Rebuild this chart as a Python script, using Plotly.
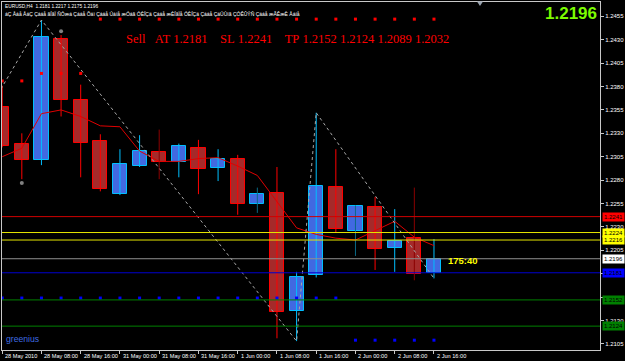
import plotly.graph_objects as go

# ---------------- data ----------------
bar_index = list(range(23))
opens  = [1.2358, 1.2319, 1.2301, 1.2431, 1.2366, 1.2322, 1.2265, 1.2295, 1.2310, 1.2299, 1.2314, 1.2293,
          1.2303, 1.2255, 1.2266, 1.2140, 1.2179, 1.2273, 1.2226, 1.2251, 1.2207, 1.2218, 1.2181]
highs  = [1.2381, 1.2330, 1.2451, 1.2435, 1.2382, 1.2329, 1.2313, 1.2328, 1.2334, 1.2319, 1.2323, 1.2313,
          1.2307, 1.2272, 1.2294, 1.2182, 1.2352, 1.2313, 1.2253, 1.2262, 1.2249, 1.2272, 1.2217]
lows   = [1.2315, 1.2281, 1.2296, 1.2348, 1.2283, 1.2268, 1.2264, 1.2294, 1.2281, 1.2283, 1.2265, 1.2279,
          1.2243, 1.2245, 1.2111, 1.2108, 1.2176, 1.2224, 1.2199, 1.2184, 1.2182, 1.2173, 1.2175]
closes = [1.2316, 1.2301, 1.2433, 1.2366, 1.2320, 1.2270, 1.2297, 1.2311, 1.2299, 1.2316, 1.2292, 1.2303,
          1.2254, 1.2265, 1.2139, 1.2177, 1.2274, 1.2228, 1.2252, 1.2206, 1.2215, 1.2180, 1.2196]
dark_wick_bars = [8, 13, 18, 21]

ma_values = [1.2305, 1.2314, 1.2351, 1.2355, 1.2348, 1.2338, 1.2337, 1.2311, 1.2300, 1.2300, 1.2303, 1.2304,
             1.2295, 1.2285, 1.2257, 1.2229, 1.2222, 1.2218, 1.2216, 1.2226, 1.2236, 1.2219, 1.2210]

zigzag_idx = [-1, 2, 15, 16, 22]
zigzag_val = [1.2344, 1.2451, 1.2108, 1.2352, 1.2175]

red_dots = [1.2386, 1.2386, 1.2394, 1.2394, 1.2394] + [1.2452] * 18
blue_dots = [1.2154] * 18 + [1.2109] * 5

fractal_idx = [3, 1]
fractal_val = [1.2439, 1.2277]

level_prices = [1.2241, 1.2224, 1.2216, 1.2196, 1.2181, 1.2152, 1.2124]
level_colors = ["#D00000", "#E6E600", "#E6E600", "#909090", "#0000D0", "#008000", "#008000"]
box_colors = ["#FF0000", "#FFFF00", "#FFFF00", "#FFFFFF", "#0000FF", "#008000", "#008000"]

xtick_idx = [0, 2, 4, 6, 8, 10, 12, 14, 16, 18, 20, 22]
xtick_text = ["28 May 2010", "28 May 08:00", "28 May 16:00", "31 May 00:00", "31 May 08:00",
              "31 May 16:00", "1 Jun 00:00", "1 Jun 08:00", "1 Jun 16:00", "2 Jun 00:00",
              "2 Jun 08:00", "2 Jun 16:00"]
ytick_vals = [1.2455, 1.2430, 1.2405, 1.2380, 1.2355, 1.2330, 1.2305, 1.2280, 1.2255, 1.2230,
              1.2205, 1.2180, 1.2155, 1.2130, 1.2105]
ytick_hidden = [1.2180, 1.2155]   # covered by the level boxes

header1 = "EURUSD,H4  1.2181 1.2217 1.2175 1.2196"
header2 = ("áÇ Åáå ÅáÇ Çááå ãÍãÏ ÑÓæá Çááå Õáì Çááå Úáíå æÓáã ÓÈÍÇä Çááå æÈÍãÏå "
           "ÓÈÍÇä Çááå ÇáÚÙíã ÇÓÊÛÝÑ Çááå æÃÊæÈ Åáíå")
signal_text = "Sell   AT 1.2181    SL 1.2241    TP 1.2152 1.2124 1.2089 1.2032"
price_text = "1.2196"
timer_text = "175:40"
brand_text = "greenius"

# ---------------- geometry helpers ----------------
W, H = 625, 361
L, R, T, B = 2, 25, 2, 11
PW, PH = W - L - R, H - T - B


def px(x):
    return (x - L) / PW


def py(y):
    return (H - B - y) / PH


BULL_FILL, BULL_LINE = "#4169E1", "#00BFFF"
BEAR_FILL, BEAR_LINE = "#A52A2A", "#FF0000"

fig = go.Figure()

# wicks
wick_groups = {}
for i in bar_index:
    bull = closes[i] >= opens[i]
    if i in dark_wick_bars:
        col = "#0A6A86" if bull else "#8B0000"
    else:
        col = BULL_LINE if bull else BEAR_LINE
    g = wick_groups.setdefault(col, ([], []))
    g[0].extend([i, i, None])
    g[1].extend([lows[i], highs[i], None])
for col, (xs, ys) in wick_groups.items():
    fig.add_trace(go.Scatter(x=xs, y=ys, mode="lines", line=dict(color=col, width=1),
                             hoverinfo="skip", showlegend=False))

# bodies
bases = [min(o, c) for o, c in zip(opens, closes)]
heights = [max(abs(c - o), 0.00002) for o, c in zip(opens, closes)]
fills = [BULL_FILL if c >= o else BEAR_FILL for o, c in zip(opens, closes)]
lines = [BULL_LINE if c >= o else BEAR_LINE for o, c in zip(opens, closes)]
fig.add_trace(go.Bar(x=bar_index, y=heights, base=bases, width=0.72,
                     marker=dict(color=fills, line=dict(color=lines, width=1)),
                     showlegend=False, hoverinfo="skip"))

# moving average
fig.add_trace(go.Scatter(x=bar_index, y=ma_values, mode="lines",
                         line=dict(color="#E00000", width=1), showlegend=False))

# zigzag
fig.add_trace(go.Scatter(x=zigzag_idx, y=zigzag_val, mode="lines",
                         line=dict(color="#A8A8A8", width=1, dash="dot"), showlegend=False))

# dot indicators
fig.add_trace(go.Scatter(x=bar_index, y=red_dots, mode="markers",
                         marker=dict(symbol="square", size=3, color="#FF0000"), showlegend=False))
fig.add_trace(go.Scatter(x=bar_index, y=blue_dots, mode="markers",
                         marker=dict(symbol="square", size=3, color="#0000FF"), showlegend=False))
fig.add_trace(go.Scatter(x=fractal_idx, y=fractal_val, mode="markers",
                         marker=dict(symbol="circle", size=4, color="#808080"), showlegend=False))

# horizontal levels
shapes = []
for p, c in zip(level_prices, level_colors):
    shapes.append(dict(type="line", xref="paper", yref="y", x0=0, x1=1, y0=p, y1=p,
                       line=dict(color=c, width=1), layer="above"))
# chart shift marker
cx = px(480)
shapes.append(dict(type="path", xref="paper", yref="paper",
                   path=f"M {cx-0.005},{py(1.5)} L {cx+0.005},{py(1.5)} L {cx},{py(6)} Z",
                   fillcolor="#9AA4B0", line=dict(width=0)))

annotations = []
for p, c in zip(level_prices, box_colors):
    annotations.append(dict(xref="paper", yref="y", x=px(602), y=p, xanchor="left", yanchor="middle",
                            text=f"{p:.4f}", showarrow=False, bgcolor=c, borderpad=1,
                            font=dict(family="Liberation Sans", size=6, color="#000000")))

# time labels, placed at the tick positions of the x axis
for xi, lab in zip(xtick_idx, xtick_text):
    annotations.append(dict(xref="x", yref="paper", x=xi, y=py(356), xanchor="left", yanchor="middle",
                            xshift=1, text=lab, showarrow=False,
                            font=dict(family="Liberation Sans", size=5.6, color="#FFFFFF")))

annotations += [
    dict(xref="paper", yref="paper", x=px(3), y=py(6.3), xanchor="left", yanchor="middle",
         text=header1, showarrow=False, font=dict(family="Liberation Sans", size=4.8, color="#FFFFFF")),
    dict(xref="paper", yref="paper", x=px(3), y=py(13.5), xanchor="left", yanchor="middle",
         text=header2, showarrow=False, font=dict(family="Liberation Sans", size=5.0, color="#FFFFFF")),
    dict(xref="paper", yref="paper", x=px(124), y=py(39), xanchor="left", yanchor="middle",
         text=signal_text.replace(" ", "\u00a0"), showarrow=False,
         font=dict(family="Liberation Serif", size=12.5, color="#FF0000")),
    dict(xref="paper", yref="paper", x=px(599), y=py(13), xanchor="right", yanchor="middle",
         text=f"<b>{price_text}</b>", showarrow=False,
         font=dict(family="Liberation Sans", size=17, color="#7CFC00")),
    dict(xref="paper", yref="paper", x=px(446), y=py(260.5), xanchor="left", yanchor="middle",
         text=f"<b>{timer_text}</b>", showarrow=False,
         font=dict(family="Liberation Sans", size=9.5, color="#FFFF00")),
    dict(xref="paper", yref="paper", x=px(4), y=py(339), xanchor="left", yanchor="middle",
         text=brand_text, showarrow=False,
         font=dict(family="Liberation Sans", size=8.6, color="#3F6CE0")),
]

fig.update_layout(
    width=W, height=H,
    margin=dict(l=L, r=R, t=T, b=B, pad=0, autoexpand=False),
    paper_bgcolor="#000000", plot_bgcolor="#000000",
    showlegend=False, bargap=0,
    shapes=shapes, annotations=annotations,
    xaxis=dict(range=[-0.01, 30.46], tickvals=xtick_idx, showticklabels=False,
               automargin=False, ticks="outside", ticklen=3, tickcolor="#C8C8C8",
               showline=True, linecolor="#C8C8C8", linewidth=1, mirror=True,
               showgrid=False, zeroline=False),
    yaxis=dict(range=[1.20985, 1.24703], side="right", tickvals=ytick_vals, automargin=False,
               ticktext=["" if v in ytick_hidden else f"{v:.4f}" for v in ytick_vals],
               ticks="outside", ticklen=3, tickcolor="#C8C8C8",
               showline=True, linecolor="#C8C8C8", linewidth=1, mirror=True,
               showgrid=False, zeroline=False,
               tickfont=dict(family="Liberation Sans", size=6, color="#FFFFFF")),
)

fig.write_html("out.html")
